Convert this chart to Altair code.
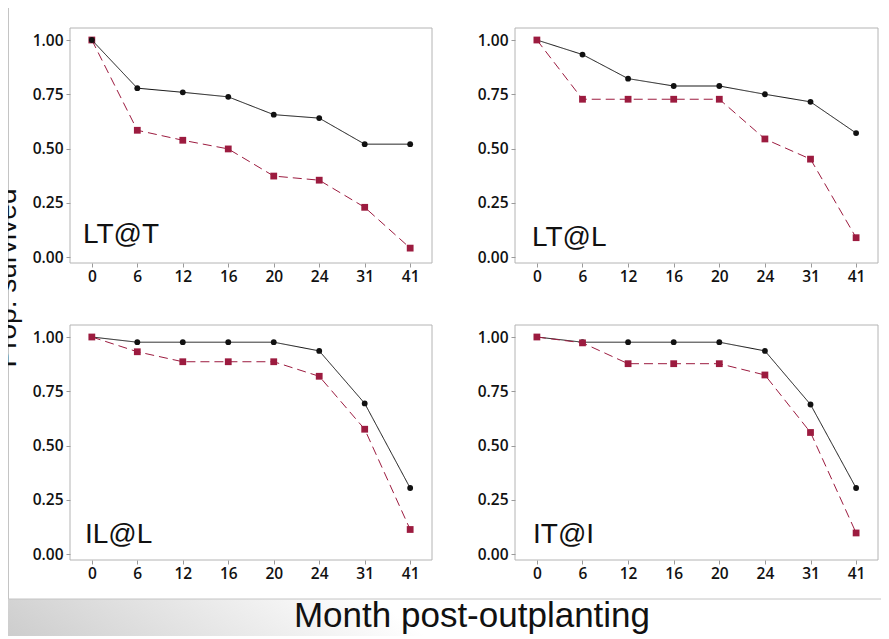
import altair as alt
import pandas as pd

# ---------------- data ----------------
months = [0, 6, 12, 16, 20, 24, 31, 41]
panels = ["LT@T", "LT@L", "IL@L", "IT@I"]
series_names = ["Group 1", "Group 2"]

lt_t_g1 = [1.0, 0.778, 0.759, 0.738, 0.656, 0.640, 0.520, 0.520]
lt_t_g2 = [1.0, 0.584, 0.538, 0.498, 0.373, 0.354, 0.229, 0.041]
lt_l_g1 = [1.0, 0.933, 0.822, 0.788, 0.788, 0.750, 0.715, 0.571]
lt_l_g2 = [1.0, 0.727, 0.727, 0.727, 0.727, 0.544, 0.451, 0.089]
il_l_g1 = [1.0, 0.976, 0.976, 0.976, 0.976, 0.936, 0.694, 0.304]
il_l_g2 = [1.0, 0.932, 0.886, 0.886, 0.886, 0.819, 0.575, 0.113]
it_i_g1 = [1.0, 0.976, 0.976, 0.976, 0.976, 0.936, 0.689, 0.304]
it_i_g2 = [1.0, 0.973, 0.877, 0.877, 0.877, 0.825, 0.560, 0.097]

y_ticks = [0.0, 0.25, 0.5, 0.75, 1.0]
x_title = "Month post-outplanting"
y_title = "Prop. survived"

values = {
    "LT@T": (lt_t_g1, lt_t_g2),
    "LT@L": (lt_l_g1, lt_l_g2),
    "IL@L": (il_l_g1, il_l_g2),
    "IT@I": (it_i_g1, it_i_g2),
}

rows = []
for p in panels:
    for s, vals in zip(series_names, values[p]):
        for i, (m, v) in enumerate(zip(months, vals)):
            rows.append({"panel": p, "series": s, "month": m, "idx": i, "value": v})
df = pd.DataFrame(rows)

# ---------------- layout / style ----------------
W, H = 873, 628
BLACK = "#111111"
RED = "#9c1b3f"
TICK_FONT = "Open Sans"
BIG_FONT = "Liberation Sans"

# frame (x0, x1, y0, y1), label pos (x, y), black drawn on top?
layout = {
    "LT@T": ((62, 424, 20, 255), (75, 235), True),
    "LT@L": ((507, 870, 20, 255), (524, 238), False),
    "IL@L": ((62, 424, 317, 552), (77, 535), False),
    "IT@I": ((507, 870, 317, 552), (525, 535), False),
}


def panel_chart(name):
    (x0, x1, y0, y1), (lx, ly), black_top = layout[name]
    sub = df[df.panel == name]
    xs = alt.X(
        "month:O",
        scale=alt.Scale(type="point", domain=months, range=[x0, x1], padding=0.48),
        axis=alt.Axis(
            orient="bottom", offset=y1 - H, title=None, labelAngle=0, domain=False,
            grid=False, ticks=True, tickSize=4, tickColor="#9a9a9a",
            labelFont=TICK_FONT, labelFontSize=15.5, labelFontWeight=600,
            labelColor="#111111", labelPadding=2, zindex=1,
        ),
    )
    ys = alt.Y(
        "value:Q",
        scale=alt.Scale(domain=[-0.0276, 1.0553], range=[y1, y0], nice=False, zero=False),
        axis=alt.Axis(
            orient="left", offset=-x0, title=None, values=y_ticks, format=".2f",
            domain=False, grid=False, ticks=True, tickSize=4, tickColor="#9a9a9a",
            labelFont=TICK_FONT, labelFontSize=15.5, labelFontWeight=600,
            labelColor="#111111", labelPadding=3, zindex=1,
        ),
    )
    frame = alt.Chart(alt.Data(values=[{"p": name}])).mark_rect(
        fill="white", stroke="#b4b4b4", strokeWidth=1
    ).encode(x=alt.value(x0), x2=alt.value(x1), y=alt.value(y0), y2=alt.value(y1))

    label = alt.Chart(alt.Data(values=[{"p": name}])).mark_text(
        font=BIG_FONT, fontSize=28, color=BLACK, align="left", baseline="alphabetic"
    ).encode(x=alt.value(lx), y=alt.value(ly), text="p:N")

    base = alt.Chart(sub)

    def series_layers(s, color, dash, shape, size):
        d = base.transform_filter(alt.datum.series == s)
        line = d.mark_line(color=color, strokeWidth=1, strokeDash=dash).encode(
            x=xs, y=ys, order="idx:Q"
        )
        pts = d.mark_point(filled=True, shape=shape, size=size, color=color, opacity=1).encode(
            x=xs, y=ys
        )
        return [line, pts]

    g1 = series_layers(series_names[0], BLACK, [1, 0], "circle", 34)
    g2 = series_layers(series_names[1], RED, [9, 5], "square", 46)
    layers = [frame] + (g2 + g1 if black_top else g1 + g2) + [label]
    return alt.layer(*layers)


# background and outer box
bg = alt.Chart(alt.Data(values=[{"a": 1}])).mark_rect(
    fill=alt.Gradient(
        gradient="linear",
        stops=[
            alt.GradientStop(color="#cdcdcd", offset=0),
            alt.GradientStop(color="#ffffff", offset=0.24),
        ],
        x1=0, y1=1, x2=1, y2=0,
    )
).encode(x=alt.value(0), x2=alt.value(W), y=alt.value(0), y2=alt.value(H))

box = alt.Chart(alt.Data(values=[{"a": 1}])).mark_rect(
    fill="white", stroke="#c4c4c4", strokeWidth=1
).encode(x=alt.value(0.5), x2=alt.value(W + 10), y=alt.value(-5), y2=alt.value(591))

xt = alt.Chart(alt.Data(values=[{"t": x_title}])).mark_text(
    font=BIG_FONT, fontSize=35, color=BLACK, align="center", baseline="alphabetic"
).encode(x=alt.value(464), y=alt.value(619), text="t:N")

yt = alt.Chart(alt.Data(values=[{"t": y_title}])).mark_text(
    font=BIG_FONT, fontSize=28, color=BLACK, align="center", baseline="alphabetic", angle=270
).encode(x=alt.value(8), y=alt.value(270), text="t:N")

chart = (
    alt.layer(bg, box, *[panel_chart(p) for p in panels], xt, yt)
    .resolve_scale(x="independent", y="independent")
    .properties(width=W, height=H, padding=0, autosize=alt.AutoSizeParams(type="none"))
    .configure_view(stroke=None)
)

chart.save("out.html", embed_options={"renderer": "svg", "actions": False})
